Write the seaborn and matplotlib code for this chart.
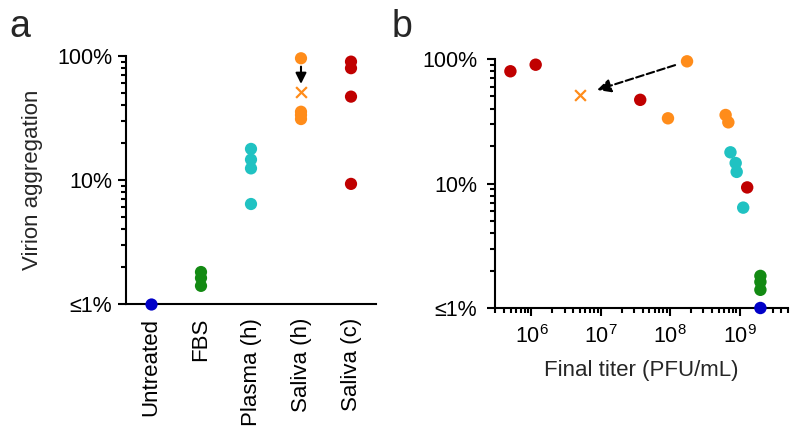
import pandas as pd
import matplotlib.pyplot as plt
import seaborn as sns
from matplotlib.ticker import FixedLocator, NullFormatter, NullLocator

sns.set_style("ticks")
plt.rcParams['font.family'] = ['Liberation Sans', 'DejaVu Sans']
plt.rcParams['mathtext.fontset'] = 'custom'
plt.rcParams['mathtext.rm'] = 'Liberation Sans'

# Data (aggregation in %)
groups = ['Untreated', 'FBS', 'Plasma (h)', 'Saliva (h)', 'Saliva (c)']
colors = ['#0000C8', '#138A13', '#20C2C2', '#FF8C1A', '#C00000']

untreated_agg = [1.0]
fbs_agg = [1.81, 1.62, 1.40]
plasma_agg = [17.8, 14.6, 12.4, 6.4]
saliva_h_agg = [95.8, 35.5, 33.4, 31.0]
saliva_c_agg = [90.0, 79.7, 47.0, 9.3]

untreated_titer = [2.0e9]
fbs_titer = [2.0e9, 2.0e9, 2.0e9]
plasma_titer = [7.4e8, 8.8e8, 9.1e8, 1.13e9]
saliva_h_titer = [1.75e8, 6.3e8, 9.3e7, 6.9e8]
saliva_c_titer = [1.15e6, 4.97e5, 3.7e7, 1.29e9]

# saliva (h) sample after correction (cross marker)
corrected_agg = 51.0
corrected_titer = 5.0e6

y_decades = [1, 10, 100]
y_labels = ['\u22641%', '10%', '100%']

agg = [untreated_agg, fbs_agg, plasma_agg, saliva_h_agg, saliva_c_agg]
titer = [untreated_titer, fbs_titer, plasma_titer, saliva_h_titer, saliva_c_titer]

rows = []
for g, a_list, t_list in zip(groups, agg, titer):
    for a, t in zip(a_list, t_list):
        rows.append({'group': g, 'agg': a, 'titer': t})
df = pd.DataFrame(rows)
pal = dict(zip(groups, colors))


# log minor tick positions (2..9 in every decade)
def minor_logticks(d0, d1):
    return [k * 10.0 ** d for d in range(d0, d1) for k in range(2, 10)]


fig = plt.figure(figsize=(8, 4.41), dpi=100)
ax1 = fig.add_axes([0.1575, 0.3107, 0.3125, 0.5624])
ax2 = fig.add_axes([0.619, 0.3016, 0.366, 0.5646])

# ---- panel a
sns.stripplot(data=df, x='group', y='agg', hue='group', order=groups, palette=pal,
              jitter=False, size=8.8, linewidth=0, legend=False, ax=ax1,
              clip_on=False, zorder=3)
ax1.annotate('', xy=(groups.index('Saliva (h)'), corrected_agg),
             xytext=(groups.index('Saliva (h)'), saliva_h_agg[0]),
             arrowprops=dict(arrowstyle='-|>', color='k', lw=1.5,
                             mutation_scale=16, shrinkA=6, shrinkB=6))
ax1.scatter([groups.index('Saliva (h)')], [corrected_agg], marker='x',
            color=colors[3], s=60, linewidths=1.6, zorder=3)

# ---- panel b
sns.scatterplot(data=df, x='titer', y='agg', hue='group', palette=pal, s=80,
                linewidth=0, legend=False, ax=ax2, clip_on=False, zorder=3)
ax2.annotate('', xy=(corrected_titer, corrected_agg),
             xytext=(saliva_h_titer[0], saliva_h_agg[0]),
             arrowprops=dict(arrowstyle='-|>', color='k', lw=1.5, ls='--',
                             mutation_scale=20, shrinkA=9, shrinkB=13))
ax2.scatter([corrected_titer], [corrected_agg], marker='x',
            color=colors[3], s=60, linewidths=1.6, zorder=3)

# scales and limits
ax1.set_yscale('log')
ax1.set_ylim(1, 100)
ax1.set_xlim(-0.5, 4.5)
ax2.set_xscale('log')
ax2.set_yscale('log')
ax2.set_xlim(3e5, 5e9)
ax2.set_ylim(1, 100)

# y ticks: decades labelled, 2..9 unlabelled (all on the major locator)
y_all = sorted(y_decades + minor_logticks(0, 2))
y_all_labels = [y_labels[y_decades.index(v)] if v in y_decades else '' for v in y_all]
for ax in (ax1, ax2):
    ax.yaxis.set_major_locator(FixedLocator(y_all))
    ax.set_yticklabels(y_all_labels)
    ax.yaxis.set_minor_locator(NullLocator())

ax2.xaxis.set_major_locator(FixedLocator([1e6, 1e7, 1e8, 1e9]))
ax2.xaxis.set_minor_locator(FixedLocator(minor_logticks(5, 10)))
ax2.xaxis.set_minor_formatter(NullFormatter())

ax1.tick_params(axis='x', which='major', length=0, pad=10, labelsize=16,
                labelrotation=90, colors='k')
ax1.tick_params(axis='y', which='major', length=6, width=1.5, pad=4, labelsize=15.5,
                left=True, colors='k')
ax2.tick_params(axis='y', which='major', length=6, width=1.5, pad=7, labelsize=15.5,
                left=True, colors='k')
ax2.tick_params(axis='x', which='major', length=6, width=1.5, pad=6, labelsize=15.5,
                bottom=True, colors='k')
ax2.tick_params(axis='x', which='minor', length=3.5, width=1.5, bottom=True, colors='k')

# labels
ax1.set_xlabel('')
ax1.set_ylabel('Virion aggregation', fontsize=16)
ax1.yaxis.set_label_coords(-0.33, 0.5)
ax2.set_ylabel('')
ax2.set_xlabel('Final titer (PFU/mL)', fontsize=16, labelpad=9)

for ax in (ax1, ax2):
    ax.spines['top'].set_visible(False)
    ax.spines['right'].set_visible(False)
    for s in ('left', 'bottom'):
        ax.spines[s].set_linewidth(1.5)
        ax.spines[s].set_color('k')

fig.text(0.012, 0.915, 'a', fontsize=27)
fig.text(0.49, 0.915, 'b', fontsize=27)

# shorter ticks between the decades
fig.canvas.draw()
for ax in (ax1, ax2):
    for t, loc in zip(ax.yaxis.get_major_ticks(), ax.yaxis.get_majorticklocs()):
        t.tick1line.set_visible(True)
        if loc not in y_decades:
            t.tick1line.set_markersize(3.5)

fig.savefig('out.png', dpi=100)
